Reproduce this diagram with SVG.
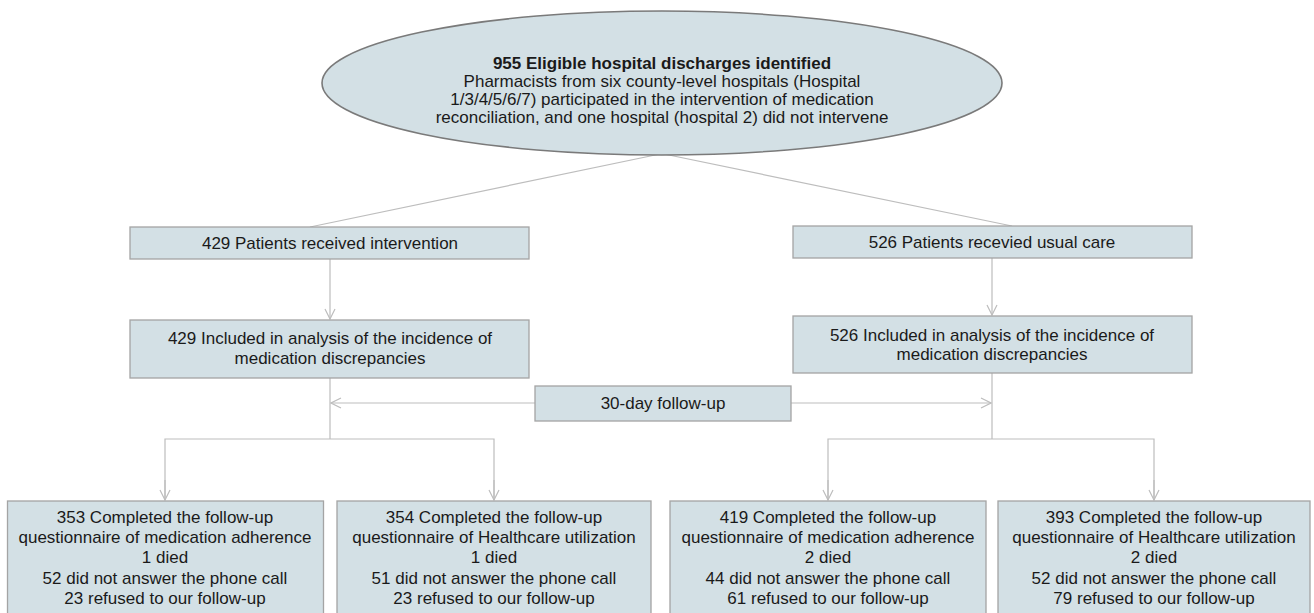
<svg xmlns="http://www.w3.org/2000/svg" width="1314" height="613" viewBox="0 0 1314 613">
<style>
.box{fill:#d3e0e5;stroke:#a4a4a4;stroke-width:1.3}
.ell{fill:#d3e0e5;stroke:#7a7a7a;stroke-width:1.6}
.t{font-family:"Liberation Sans",Arial,sans-serif;font-size:17px;fill:#1a1a1a;text-anchor:middle}
.b{font-weight:bold}
.c{fill:none;stroke:#bdbdbd;stroke-width:1.2}
</style>
<defs>
<marker id="ah" viewBox="0 0 12 12" refX="11" refY="6" markerWidth="12" markerHeight="12" markerUnits="userSpaceOnUse" orient="auto">
<path d="M1,1 L11,6 L1,11" fill="none" stroke="#bdbdbd" stroke-width="1.2"/>
</marker>
</defs>
<g id="connectors">
<line class="c" x1="660" y1="154" x2="310" y2="227"/>
<line class="c" x1="664" y1="154" x2="1012" y2="226"/>
<line class="c" x1="330" y1="259" x2="330" y2="319" marker-end="url(#ah)"/>
<line class="c" x1="992" y1="258" x2="992" y2="315" marker-end="url(#ah)"/>
<line class="c" x1="535" y1="403" x2="331" y2="403" marker-end="url(#ah)"/>
<line class="c" x1="791" y1="403" x2="991" y2="403" marker-end="url(#ah)"/>
<line class="c" x1="330" y1="378" x2="330" y2="439"/>
<line class="c" x1="992" y1="373" x2="992" y2="439"/>
<polyline class="c" points="165,500 165,439 494,439 494,500"/>
<polyline class="c" points="828,500 828,439 1154,439 1154,500"/>
<line class="c" x1="165" y1="480" x2="165" y2="500" marker-end="url(#ah)"/>
<line class="c" x1="494" y1="480" x2="494" y2="500" marker-end="url(#ah)"/>
<line class="c" x1="828" y1="480" x2="828" y2="500" marker-end="url(#ah)"/>
<line class="c" x1="1154" y1="480" x2="1154" y2="500" marker-end="url(#ah)"/>
</g>
<g id="n0">
<ellipse class="ell" cx="662" cy="83" rx="340" ry="72"/>
<text class="t b" x="662" y="69">955 Eligible hospital discharges identified</text>
<text class="t" x="662" y="87">Pharmacists from six county-level hospitals (Hospital</text>
<text class="t" x="662" y="105">1/3/4/5/6/7) participated in the intervention of medication</text>
<text class="t" x="662" y="123">reconciliation, and one hospital (hospital 2) did not intervene</text>
</g>
<g id="n1">
<rect class="box" x="130" y="227" width="399" height="32"/>
<text class="t" x="330" y="249">429 Patients received intervention</text>
</g>
<g id="n2">
<rect class="box" x="793" y="226" width="399" height="32"/>
<text class="t" x="992" y="248">526 Patients recevied usual care</text>
</g>
<g id="n3">
<rect class="box" x="130" y="320" width="399" height="58"/>
<text class="t" x="330" y="344">429 Included in analysis of the incidence of</text>
<text class="t" x="330" y="364">medication discrepancies</text>
</g>
<g id="n4">
<rect class="box" x="793" y="316" width="399" height="57"/>
<text class="t" x="992" y="341">526 Included in analysis of the incidence of</text>
<text class="t" x="992" y="360">medication discrepancies</text>
</g>
<g id="n5">
<rect class="box" x="535" y="386" width="256" height="35"/>
<text class="t" x="663" y="409">30-day follow-up</text>
</g>
<g id="n6">
<rect class="box" x="7.5" y="501" width="316" height="120"/>
<text class="t" x="165" y="523">353 Completed the follow-up</text>
<text class="t" x="165" y="543">questionnaire of medication adherence</text>
<text class="t" x="165" y="563">1 died</text>
<text class="t" x="165" y="584">52 did not answer the phone call</text>
<text class="t" x="165" y="604">23 refused to our follow-up</text>
</g>
<g id="n7">
<rect class="box" x="337" y="501" width="314" height="120"/>
<text class="t" x="494" y="523">354 Completed the follow-up</text>
<text class="t" x="494" y="543">questionnaire of Healthcare utilization</text>
<text class="t" x="494" y="563">1 died</text>
<text class="t" x="494" y="584">51 did not answer the phone call</text>
<text class="t" x="494" y="604">23 refused to our follow-up</text>
</g>
<g id="n8">
<rect class="box" x="670" y="501" width="316" height="120"/>
<text class="t" x="828" y="523">419 Completed the follow-up</text>
<text class="t" x="828" y="543">questionnaire of medication adherence</text>
<text class="t" x="828" y="563">2 died</text>
<text class="t" x="828" y="584">44 did not answer the phone call</text>
<text class="t" x="828" y="604">61 refused to our follow-up</text>
</g>
<g id="n9">
<rect class="box" x="998" y="501" width="312" height="120"/>
<text class="t" x="1154" y="523">393 Completed the follow-up</text>
<text class="t" x="1154" y="543">questionnaire of Healthcare utilization</text>
<text class="t" x="1154" y="563">2 died</text>
<text class="t" x="1154" y="584">52 did not answer the phone call</text>
<text class="t" x="1154" y="604">79 refused to our follow-up</text>
</g>
</svg>
